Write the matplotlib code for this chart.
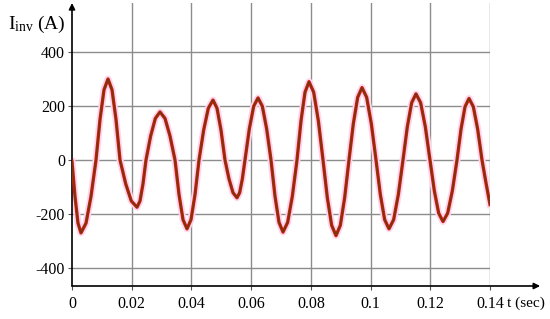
import numpy as np
import matplotlib
matplotlib.use('Agg')
import matplotlib.pyplot as plt

# inverter current (time in ms, current in A)
t_ms = [0.0, 1.00, 2.01, 3.01, 4.69, 6.36, 8.04, 9.38, 10.72, 12.06,
        13.40, 14.74, 16.08, 17.98, 19.87, 21.77, 22.77, 23.78, 24.78, 26.34,
        27.91, 29.47, 31.15, 32.82, 34.50, 35.84, 37.18, 38.52, 39.86, 41.20,
        42.54, 44.10, 45.66, 47.22, 48.56, 49.90, 51.24, 52.58, 53.92, 55.26,
        56.15, 57.05, 57.94, 59.39, 60.85, 62.30, 63.75, 65.20, 66.65, 67.99,
        69.33, 70.67, 72.23, 73.80, 75.36, 76.70, 78.04, 79.38, 80.94, 82.51,
        84.07, 85.52, 86.97, 88.42, 89.87, 91.32, 92.77, 94.22, 95.68, 97.13,
        98.69, 100.26, 101.82, 103.27, 104.72, 106.17, 107.73, 109.30, 110.86, 112.31,
        113.76, 115.21, 116.77, 118.34, 119.90, 121.35, 122.81, 124.26, 125.82, 127.39,
        128.95, 130.29, 131.63, 132.97, 134.42, 135.87, 137.32, 138.66, 140.0]
i_inv = [-5, -135, -234, -270, -234, -135, 0, 150, 260, 300,
         260, 150, 0, -88, -152, -175, -152, -88, 0, 89,
         154, 178, 154, 89, 0, -128, -221, -255, -221, -128,
         0, 111, 192, 222, 192, 111, 0, -70, -121, -140,
         -121, -70, 0, 115, 199, 230, 199, 115, 0, -134,
         -231, -267, -231, -134, 0, 145, 251, 290, 251, 145,
         0, -140, -242, -280, -242, -140, 0, 134, 232, 268,
         232, 134, 0, -128, -221, -255, -221, -128, 0, 123,
         212, 245, 212, 123, 0, -114, -197, -228, -197, -114,
         0, 114, 197, 228, 197, 114, 0, -85, -165]

x_ticks = [0, 0.02, 0.04, 0.06, 0.08, 0.1, 0.12, 0.14]
x_labels = ['0', '0.02', '0.04', '0.06', '0.08', '0.1', '0.12', '0.14']
y_ticks = [-400, -200, 0, 200, 400]
y_labels = ['-400', '-200', '0', '200', '400']

t = np.array(t_ms) / 1000.0

plt.rcParams['font.family'] = ['Liberation Serif', 'DejaVu Serif']
plt.rcParams['mathtext.fontset'] = 'custom'
plt.rcParams['mathtext.rm'] = 'Liberation Serif'
plt.rcParams['mathtext.it'] = 'Liberation Serif'
plt.rcParams['axes.unicode_minus'] = False

fig = plt.figure(figsize=(5.5, 3.19), dpi=100)
ax = fig.add_axes([72/550, 1 - 286/319, 418/550, 283/319])

# trace: pink halo, red body, dark core
ax.plot(t, i_inv, color='#ffd6ee', lw=5, solid_joinstyle='round', zorder=3)
ax.plot(t, i_inv, color='#d81a10', lw=2.4, solid_joinstyle='round', zorder=4)
ax.plot(t, i_inv, color='#6e3a0c', lw=1.1, solid_joinstyle='round', zorder=5)

ax.set_xlim(0, 0.14)
ax.set_ylim(-466.7, 581.5)
ax.set_xticks(x_ticks)
ax.set_xticklabels(x_labels)
ax.set_yticks(y_ticks)
ax.set_yticklabels(y_labels)
ax.tick_params(labelsize=11.5, length=3, width=0.8, color='#555555', pad=2)
ax.tick_params(axis='x', pad=4)

for y in y_ticks:
    ax.axhline(y, color='#8c8c8c', lw=1.0, zorder=1)
for x in x_ticks[1:]:
    ax.axvline(x, color='#8c8c8c', lw=1.0, zorder=1)

for side in ['top', 'right', 'left', 'bottom']:
    ax.spines[side].set_visible(False)

# axes with arrowheads
ax.annotate('', xy=(1.12, 0), xytext=(0, 0), xycoords='axes fraction',
            arrowprops=dict(arrowstyle='-|>', color='black', lw=1.2,
                            mutation_scale=9, shrinkA=0, shrinkB=0),
            annotation_clip=False)
ax.annotate('', xy=(0, 1.0), xytext=(0, 0), xycoords='axes fraction',
            arrowprops=dict(arrowstyle='-|>', color='black', lw=1.2,
                            mutation_scale=9, shrinkA=0, shrinkB=0),
            annotation_clip=False)

fig.text(8/550, 1 - 24/319, r'$\mathregular{I_{inv}}$ (A)', fontsize=14,
         va='center', ha='left')
fig.text(507/550, 1 - 303/319, 't (sec)', fontsize=11, va='center', ha='left')

plt.savefig('out.png', dpi=100)
